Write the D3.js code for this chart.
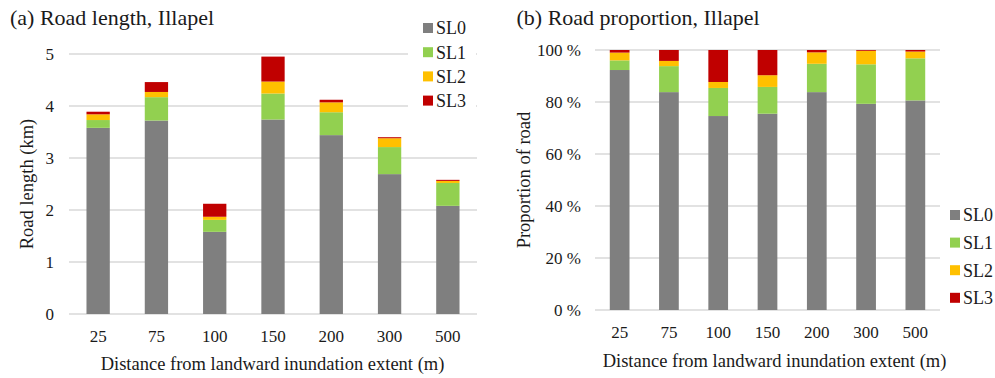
<!DOCTYPE html>
<html><head><meta charset="utf-8">
<script src="https://cdn.jsdelivr.net/npm/d3@7"></script>
<style>body{margin:0;background:#fff}svg text{font-family:"Liberation Serif","Times New Roman",serif}</style>
</head><body><svg id="c" width="995" height="378"></svg>
<script>
const categories = ["25","75","100","150","200","300","500"];
const seriesNames = ["SL0","SL1","SL2","SL3"];
const colors = ["#7f7f7f","#92d050","#ffc000","#c00000"];
// (a) road length, km
const lenSL0 = [3.58,3.72,1.58,3.74,3.44,2.69,2.08];
const lenSL1 = [0.15,0.45,0.23,0.50,0.44,0.52,0.44];
const lenSL2 = [0.11,0.10,0.06,0.23,0.19,0.17,0.04];
const lenSL3 = [0.05,0.19,0.25,0.48,0.05,0.02,0.02];
// (b) road proportion, %
const propSL0 = [92.3,83.8,74.6,75.5,83.8,79.3,80.6];
const propSL1 = [3.7,10.0,10.8,10.3,10.9,15.2,16.2];
const propSL2 = [3.0,2.0,2.3,4.5,4.4,5.2,2.6];
const propSL3 = [1.0,4.2,12.3,9.7,0.9,0.3,0.6];
const lenTicks = [0,1,2,3,4,5];
const propTicks = [0,20,40,60,80,100];

const svg = d3.select("#c");
const txt = "#1a1a1a", grid = "#d9d9d9";
const FF = "Liberation Serif, Times New Roman, serif";

function panel(o){
  const rows = categories.map((c,i)=>{const r={cat:c};o.series.forEach((s,j)=>r[seriesNames[j]]=s[i]);return r;});
  const stack = d3.stack().keys(seriesNames)(rows);
  const x = d3.scaleBand().domain(categories).range([o.x0,o.x1]).paddingInner(0.6).paddingOuter(0.3);
  const y = d3.scaleLinear().domain(o.domain).range([o.y0,o.y1]);
  const g = svg.append("g").attr("font-family",FF);
  g.selectAll("line.grid").data(o.ticks).join("line")
    .attr("x1",o.x0).attr("x2",o.x1).attr("y1",d=>y(d)).attr("y2",d=>y(d))
    .attr("stroke",grid).attr("stroke-width",1.5);
  stack.forEach((layer,j)=>{
    g.append("g").attr("fill",colors[j]).selectAll("rect").data(layer).join("rect")
      .attr("x",d=>x(d.data.cat)).attr("width",x.bandwidth())
      .attr("y",d=>y(d[1])).attr("height",d=>y(d[0])-y(d[1]));
  });
  g.selectAll("text.yt").data(o.ticks).join("text")
    .attr("x",o.tickX).attr("y",d=>y(d)).attr("dy","0.35em").attr("text-anchor","end")
    .attr("font-size",17).attr("fill",txt).text(o.fmt);
  g.selectAll("text.xt").data(categories).join("text")
    .attr("x",d=>x(d)+x.bandwidth()/2).attr("y",o.xtY).attr("text-anchor","middle")
    .attr("font-size",17).attr("fill",txt).text(d=>d);
  g.append("text").attr("x",o.xtitleC).attr("y",o.xtitleY).attr("text-anchor","middle")
    .attr("font-size",18.5).attr("fill",txt).text("Distance from landward inundation extent (m)");
  g.append("text").attr("transform",`translate(${o.ytitleX},${o.ytitleC}) rotate(-90)`)
    .attr("text-anchor","middle").attr("font-size",18.5).attr("fill",txt).text(o.ytitle);
  g.append("text").attr("x",o.titleX).attr("y",25).attr("font-size",22).attr("fill",txt).text(o.title);
  const lg = g.append("g");
  if(o.legendBg) lg.append("rect").attr("x",o.legendBg[0]).attr("y",o.legendBg[1]).attr("width",o.legendBg[2]).attr("height",o.legendBg[3]).attr("fill","#fff");
  seriesNames.forEach((s,j)=>{
    const cy = o.legY + j*o.legStep;
    lg.append("rect").attr("x",o.legX).attr("y",cy-5).attr("width",10).attr("height",10).attr("fill",colors[j]);
    lg.append("text").attr("x",o.legX+13).attr("y",cy).attr("dy","0.35em").attr("font-size",18).attr("fill",txt).text(s);
  });
}

panel({series:[lenSL0,lenSL1,lenSL2,lenSL3],domain:[0,5],ticks:lenTicks,x0:69,x1:477,y0:314,y1:54,
  tickX:54,fmt:d=>d,xtY:341.7,xtitleC:272.5,xtitleY:370,ytitleX:33,ytitleC:184,ytitle:"Road length (km)",
  titleX:10,title:"(a) Road length, Illapel",legX:423,legY:28,legStep:24.2,legendBg:[408,12,68,102]});
panel({series:[propSL0,propSL1,propSL2,propSL3],domain:[0,100],ticks:propTicks,x0:595,x1:940,y0:310,y1:50,
  tickX:581,fmt:d=>d+" %",xtY:338.3,xtitleC:774.5,xtitleY:366.7,ytitleX:530,ytitleC:180,ytitle:"Proportion of road",
  titleX:516.5,title:"(b) Road proportion, Illapel",legX:950,legY:215,legStep:27.6});
</script></body></html>
